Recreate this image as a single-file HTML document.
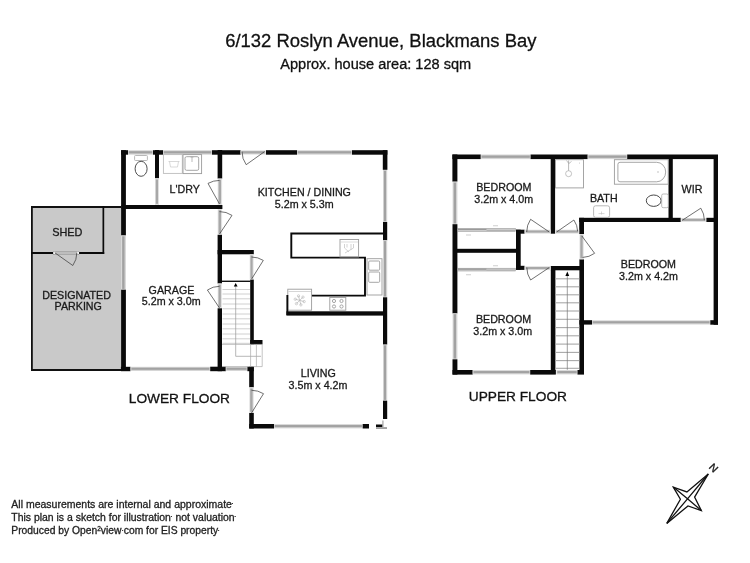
<!DOCTYPE html>
<html><head><meta charset="utf-8"><style>
html,body{margin:0;padding:0;background:#fff;}
body{width:750px;height:563px;overflow:hidden;}
svg{display:block;font-family:"Liberation Sans",sans-serif;will-change:transform;}
</style></head><body>
<svg width="750" height="563" viewBox="0 0 750 563">
<rect x="31.00" y="206.00" width="90.00" height="165.00" fill="#c9c9c9" />
<path d="M121,207 H31.9 V370 H121" fill="none" stroke="#111" stroke-width="1.8"/>
<rect x="102.50" y="206.00" width="1.70" height="48.00" fill="#0a0a0a" />
<rect x="31.00" y="252.00" width="23.40" height="2.00" fill="#0a0a0a" />
<rect x="78.40" y="252.00" width="25.80" height="2.00" fill="#0a0a0a" />
<rect x="53.6" y="251.3" width="25.2" height="3.4" fill="#bdbdbd" stroke="#999" stroke-width="0.6"/>
<rect x="53.3" y="251.8" width="2" height="2.2" fill="#f4f4f4"/><rect x="77" y="251.8" width="2" height="2.2" fill="#f4f4f4"/>
<path d="M54.90,252.80 L72.80,265.50 A21.95,21.95 0 0 0 76.85,252.80" fill="none" stroke="#333" stroke-width="0.7"/>
<rect x="121.10" y="150.20" width="6.90" height="4.50" fill="#0a0a0a" />
<rect x="128.00" y="150.20" width="25.00" height="4.50" fill="#d6d6d6"/>
<rect x="128.80" y="151.19" width="23.40" height="2.25" fill="#a2a2a2"/>
<rect x="153.00" y="150.20" width="10.00" height="4.50" fill="#0a0a0a" />
<rect x="163.00" y="150.20" width="49.00" height="4.50" fill="#d6d6d6"/>
<rect x="163.80" y="151.19" width="47.40" height="2.25" fill="#a2a2a2"/>
<rect x="212.00" y="150.20" width="28.70" height="4.50" fill="#0a0a0a" />
<rect x="240.50" y="150.30" width="25.50" height="4.30" fill="#e0e0e0"/>
<rect x="241.70" y="151.16" width="23.10" height="2.37" fill="#a8a8a8"/>
<path d="M264.60,151.60 L246.20,164.70 A22.59,22.59 0 0 1 242.01,151.60" fill="none" stroke="#333" stroke-width="0.7"/>
<rect x="266.00" y="150.20" width="31.00" height="4.50" fill="#0a0a0a" />
<rect x="297.00" y="150.20" width="55.00" height="4.50" fill="#d6d6d6"/>
<rect x="297.80" y="151.19" width="53.40" height="2.25" fill="#a2a2a2"/>
<rect x="352.00" y="150.20" width="35.40" height="4.50" fill="#0a0a0a" />
<rect x="121.10" y="150.20" width="4.80" height="85.30" fill="#0a0a0a" />
<rect x="121.10" y="235.50" width="4.80" height="54.20" fill="#d6d6d6"/>
<rect x="122.16" y="236.30" width="2.40" height="52.60" fill="#a2a2a2"/>
<rect x="121.10" y="289.70" width="4.80" height="81.30" fill="#0a0a0a" />
<rect x="121.50" y="205.00" width="100.90" height="4.00" fill="#0a0a0a" />
<rect x="155.00" y="150.00" width="4.00" height="28.30" fill="#0a0a0a" />
<rect x="155.00" y="178.30" width="4.00" height="26.70" fill="#e0e0e0"/>
<rect x="155.80" y="179.50" width="2.20" height="24.30" fill="#a8a8a8"/>
<rect x="217.60" y="150.00" width="4.60" height="28.60" fill="#0a0a0a" />
<rect x="217.70" y="178.60" width="4.40" height="26.40" fill="#e0e0e0"/>
<rect x="218.58" y="179.80" width="2.42" height="24.00" fill="#a8a8a8"/>
<path d="M219.50,204.00 L208.00,183.40 A23.59,23.59 0 0 1 219.50,180.41" fill="none" stroke="#333" stroke-width="0.7"/>
<rect x="217.70" y="209.00" width="4.40" height="25.80" fill="#e0e0e0"/>
<rect x="218.58" y="210.20" width="2.42" height="23.40" fill="#a8a8a8"/>
<path d="M219.50,234.00 L232.00,215.40 A22.41,22.41 0 0 0 219.50,211.59" fill="none" stroke="#333" stroke-width="0.7"/>
<rect x="217.60" y="234.80" width="4.40" height="48.70" fill="#0a0a0a" />
<rect x="217.70" y="283.50" width="4.20" height="24.80" fill="#e0e0e0"/>
<rect x="218.54" y="284.70" width="2.31" height="22.40" fill="#a8a8a8"/>
<path d="M219.50,308.00 L207.40,290.00 A21.69,21.69 0 0 1 219.50,286.31" fill="none" stroke="#333" stroke-width="0.7"/>
<rect x="217.60" y="308.30" width="4.40" height="62.90" fill="#0a0a0a" />
<rect x="120.90" y="366.80" width="9.60" height="4.40" fill="#0a0a0a" />
<rect x="130.60" y="366.80" width="79.60" height="4.20" fill="#d6d6d6"/>
<rect x="131.40" y="367.72" width="78.00" height="2.10" fill="#a2a2a2"/>
<rect x="210.20" y="366.70" width="15.60" height="4.50" fill="#0a0a0a" />
<rect x="225.80" y="366.80" width="21.60" height="4.20" fill="#d6d6d6"/>
<rect x="226.60" y="367.72" width="20.00" height="2.10" fill="#a2a2a2"/>
<rect x="247.40" y="366.70" width="6.40" height="4.50" fill="#0a0a0a" />
<rect x="217.60" y="250.00" width="36.20" height="4.30" fill="#0a0a0a" />
<rect x="249.70" y="254.30" width="3.90" height="25.30" fill="#e0e0e0"/>
<rect x="250.48" y="255.50" width="2.15" height="22.90" fill="#a8a8a8"/>
<path d="M251.60,279.00 L263.30,260.40 A21.97,21.97 0 0 0 251.60,257.03" fill="none" stroke="#333" stroke-width="0.7"/>
<rect x="250.20" y="279.60" width="3.60" height="64.80" fill="#0a0a0a" />
<rect x="250.20" y="340.00" width="12.30" height="4.40" fill="#0a0a0a" />
<rect x="249.20" y="366.70" width="4.60" height="20.60" fill="#0a0a0a" />
<rect x="249.30" y="387.30" width="4.40" height="25.70" fill="#e0e0e0"/>
<rect x="250.18" y="388.50" width="2.42" height="23.30" fill="#a8a8a8"/>
<path d="M251.50,413.00 L263.50,393.70 A22.73,22.73 0 0 0 251.50,390.27" fill="none" stroke="#333" stroke-width="0.7"/>
<rect x="249.20" y="413.00" width="4.60" height="15.50" fill="#0a0a0a" />
<rect x="249.20" y="424.00" width="24.80" height="4.50" fill="#0a0a0a" />
<rect x="274.00" y="424.10" width="88.70" height="4.30" fill="#d6d6d6"/>
<rect x="274.80" y="425.05" width="87.10" height="2.15" fill="#a2a2a2"/>
<rect x="362.70" y="424.00" width="6.30" height="4.50" fill="#0a0a0a" />
<rect x="376.00" y="424.50" width="7.00" height="2.50" fill="#0a0a0a" />
<rect x="376.00" y="427.10" width="11.00" height="1.90" fill="#a0a0a0" />
<rect x="382.20" y="420.50" width="1.40" height="6.50" fill="#b0b0b0" />
<rect x="382.80" y="150.20" width="4.60" height="19.60" fill="#0a0a0a" />
<rect x="383.00" y="170.00" width="4.20" height="52.00" fill="#d6d6d6"/>
<rect x="383.92" y="170.80" width="2.10" height="50.40" fill="#a2a2a2"/>
<rect x="383.00" y="222.00" width="4.20" height="18.30" fill="#0a0a0a" />
<rect x="383.00" y="240.30" width="4.20" height="57.00" fill="#d6d6d6"/>
<rect x="383.92" y="241.10" width="2.10" height="55.40" fill="#a2a2a2"/>
<rect x="383.00" y="297.30" width="4.20" height="47.30" fill="#0a0a0a" />
<rect x="383.00" y="344.60" width="4.20" height="56.10" fill="#d6d6d6"/>
<rect x="383.92" y="345.40" width="2.10" height="54.50" fill="#a2a2a2"/>
<rect x="383.00" y="400.70" width="4.20" height="18.30" fill="#0a0a0a" />
<rect x="286.40" y="311.30" width="100.60" height="4.30" fill="#0a0a0a" />
<path d="M383,233.5 H291.3 V257.6 H365 V295.6 H311.7" fill="none" stroke="#0a0a0a" stroke-width="1.9"/>
<rect x="340" y="239.5" width="18.6" height="17.5" fill="none" stroke="#9c9c9c" stroke-width="0.9"/>
<rect x="367" y="258.7" width="15" height="36.3" fill="none" stroke="#9c9c9c" stroke-width="0.9"/>
<rect x="368.7" y="261" width="11" height="9.2" rx="1" fill="none" stroke="#9c9c9c" stroke-width="0.9"/>
<rect x="368.7" y="272" width="11" height="10.3" rx="1" fill="none" stroke="#9c9c9c" stroke-width="0.9"/>
<rect x="287.8" y="289.2" width="23.8" height="21" fill="none" stroke="#9c9c9c" stroke-width="0.9"/>
<rect x="329.8" y="297.4" width="16" height="12.8" fill="none" stroke="#9c9c9c" stroke-width="0.9"/>
<circle cx="334" cy="301" r="1.6" fill="none" stroke="#9c9c9c" stroke-width="0.9"/>
<circle cx="341.5" cy="301" r="1.6" fill="none" stroke="#9c9c9c" stroke-width="0.9"/>
<circle cx="334" cy="306.5" r="1.6" fill="none" stroke="#9c9c9c" stroke-width="0.9"/>
<circle cx="341.5" cy="306.5" r="1.6" fill="none" stroke="#9c9c9c" stroke-width="0.9"/>
<line x1="288.5" y1="291.5" x2="311" y2="291.5" stroke="#bbb" stroke-width="0.6"/>
<line x1="299.7" y1="300.4" x2="304.14" y2="301.59" stroke="#b5b5b5" stroke-width="0.7"/>
<circle cx="304.14" cy="301.59" r="1.2" fill="none" stroke="#b5b5b5" stroke-width="0.6"/>
<line x1="299.7" y1="300.4" x2="300.89" y2="304.84" stroke="#b5b5b5" stroke-width="0.7"/>
<circle cx="300.89" cy="304.84" r="1.2" fill="none" stroke="#b5b5b5" stroke-width="0.6"/>
<line x1="299.7" y1="300.4" x2="296.45" y2="303.65" stroke="#b5b5b5" stroke-width="0.7"/>
<circle cx="296.45" cy="303.65" r="1.2" fill="none" stroke="#b5b5b5" stroke-width="0.6"/>
<line x1="299.7" y1="300.4" x2="295.26" y2="299.21" stroke="#b5b5b5" stroke-width="0.7"/>
<circle cx="295.26" cy="299.21" r="1.2" fill="none" stroke="#b5b5b5" stroke-width="0.6"/>
<line x1="299.7" y1="300.4" x2="298.51" y2="295.96" stroke="#b5b5b5" stroke-width="0.7"/>
<circle cx="298.51" cy="295.96" r="1.2" fill="none" stroke="#b5b5b5" stroke-width="0.6"/>
<line x1="299.7" y1="300.4" x2="302.95" y2="297.15" stroke="#b5b5b5" stroke-width="0.7"/>
<circle cx="302.95" cy="297.15" r="1.2" fill="none" stroke="#b5b5b5" stroke-width="0.6"/>
<line x1="340.5" y1="242" x2="358" y2="242" stroke="#c8c8c8" stroke-width="0.6"/>
<path d="M344.5,244 V248 L349,252 M353.5,244 V248 L345,253 M347,244 V247.5 M351,244 V250" fill="none" stroke="#c0c0c0" stroke-width="0.7"/>
<rect x="286.40" y="295.00" width="1.90" height="20.00" fill="#0a0a0a" />
<rect x="163.4" y="154.6" width="18.9" height="18.8" fill="none" stroke="#bdbdbd" stroke-width="0.9"/>
<rect x="183" y="154.6" width="18.6" height="19" fill="none" stroke="#9c9c9c" stroke-width="0.9"/>
<rect x="185" y="156.7" width="13.7" height="13.6" rx="1.5" fill="none" stroke="#9c9c9c" stroke-width="0.9"/>
<path d="M192,156.7 V162 M190.5,157 H193.5" fill="none" stroke="#aaa" stroke-width="0.8"/>
<path d="M168.5,161.5 H179.5 M169.5,161.5 L170.5,167 H177.5 L178.5,161.5" fill="none" stroke="#c8c8c8" stroke-width="0.7"/>
<rect x="134.6" y="155.5" width="12.8" height="5" rx="0.8" fill="none" stroke="#b0b0b0" stroke-width="0.9"/>
<ellipse cx="141.1" cy="168.8" rx="6" ry="7.5" fill="none" stroke="#444" stroke-width="0.95"/>
<line x1="221.8" y1="281.3" x2="250.5" y2="281.3" stroke="#111" stroke-width="1.4"/>
<line x1="222.5" y1="289.5" x2="250" y2="289.5" stroke="#d0d0d0" stroke-width="1"/>
<line x1="222.5" y1="294" x2="250" y2="294" stroke="#d0d0d0" stroke-width="1"/>
<line x1="222.5" y1="298.8" x2="250" y2="298.8" stroke="#d0d0d0" stroke-width="1"/>
<line x1="222.5" y1="304" x2="250" y2="304" stroke="#d0d0d0" stroke-width="1"/>
<line x1="222.5" y1="308.8" x2="250" y2="308.8" stroke="#d0d0d0" stroke-width="1"/>
<line x1="222.5" y1="314" x2="250" y2="314" stroke="#d0d0d0" stroke-width="1"/>
<line x1="222.5" y1="318.8" x2="250" y2="318.8" stroke="#d0d0d0" stroke-width="1"/>
<line x1="222.5" y1="324" x2="250" y2="324" stroke="#d0d0d0" stroke-width="1"/>
<line x1="222.5" y1="328.8" x2="250" y2="328.8" stroke="#d0d0d0" stroke-width="1"/>
<line x1="222.5" y1="334" x2="250" y2="334" stroke="#d0d0d0" stroke-width="1"/>
<line x1="222.5" y1="338.8" x2="250" y2="338.8" stroke="#d0d0d0" stroke-width="1"/>
<line x1="222.5" y1="343.3" x2="250" y2="343.3" stroke="#d0d0d0" stroke-width="1"/>
<path d="M235.7,286 V356.3 H261" fill="none" stroke="#999" stroke-width="0.7"/>
<path d="M235.7,283 L233.8,286.5 H237.6 Z" fill="#000"/>
<path d="M222,344.4 H262.2 V366.6 H222" fill="none" stroke="#aaa" stroke-width="0.7"/>
<line x1="250.6" y1="344.4" x2="250.6" y2="366.6" stroke="#aaa" stroke-width="0.7"/>
<line x1="256.4" y1="344.4" x2="256.4" y2="366.6" stroke="#aaa" stroke-width="0.7"/>
<rect x="452.40" y="154.50" width="28.40" height="4.60" fill="#0a0a0a" />
<rect x="480.80" y="154.50" width="49.80" height="4.60" fill="#d6d6d6"/>
<rect x="481.60" y="155.51" width="48.20" height="2.30" fill="#a2a2a2"/>
<rect x="530.60" y="154.50" width="57.10" height="4.60" fill="#0a0a0a" />
<rect x="587.70" y="154.50" width="39.50" height="4.60" fill="#d6d6d6"/>
<rect x="588.50" y="155.51" width="37.90" height="2.30" fill="#a2a2a2"/>
<rect x="627.20" y="154.50" width="90.80" height="4.60" fill="#0a0a0a" />
<rect x="452.40" y="154.50" width="5.00" height="27.10" fill="#0a0a0a" />
<rect x="452.60" y="181.80" width="4.80" height="42.40" fill="#d6d6d6"/>
<rect x="453.66" y="182.60" width="2.40" height="40.80" fill="#a2a2a2"/>
<rect x="452.50" y="224.20" width="4.90" height="89.20" fill="#0a0a0a" />
<rect x="452.60" y="313.40" width="4.80" height="45.90" fill="#d6d6d6"/>
<rect x="453.66" y="314.20" width="2.40" height="44.30" fill="#a2a2a2"/>
<rect x="452.50" y="359.30" width="4.90" height="15.30" fill="#0a0a0a" />
<rect x="452.50" y="370.00" width="20.20" height="4.60" fill="#0a0a0a" />
<rect x="472.70" y="370.10" width="57.50" height="4.30" fill="#d6d6d6"/>
<rect x="473.50" y="371.05" width="55.90" height="2.15" fill="#a2a2a2"/>
<rect x="530.20" y="370.00" width="25.60" height="4.60" fill="#0a0a0a" />
<rect x="556.50" y="370.10" width="21.00" height="4.30" fill="#d6d6d6"/>
<rect x="557.30" y="371.05" width="19.40" height="2.15" fill="#a2a2a2"/>
<rect x="577.50" y="370.00" width="6.50" height="4.60" fill="#0a0a0a" />
<rect x="550.80" y="266.00" width="4.60" height="108.00" fill="#0a0a0a" />
<rect x="579.40" y="259.30" width="4.60" height="114.70" fill="#0a0a0a" />
<rect x="550.80" y="266.00" width="33.20" height="4.30" fill="#0a0a0a" />
<rect x="550.70" y="155.00" width="4.40" height="78.70" fill="#0a0a0a" />
<rect x="668.50" y="155.00" width="4.30" height="67.00" fill="#0a0a0a" />
<rect x="579.20" y="217.80" width="101.60" height="4.20" fill="#0a0a0a" />
<rect x="680.80" y="218.00" width="25.60" height="3.90" fill="#e0e0e0"/>
<rect x="682.00" y="218.78" width="23.20" height="2.15" fill="#a8a8a8"/>
<path d="M682.40,220.20 L700.80,208.20 A21.97,21.97 0 0 1 704.37,220.20" fill="none" stroke="#333" stroke-width="0.7"/>
<rect x="706.40" y="217.80" width="11.60" height="4.20" fill="#0a0a0a" />
<rect x="713.60" y="155.00" width="4.40" height="169.70" fill="#0a0a0a" />
<rect x="579.20" y="217.80" width="4.80" height="16.20" fill="#0a0a0a" />
<rect x="579.50" y="234.00" width="4.20" height="25.30" fill="#e0e0e0"/>
<rect x="580.34" y="235.20" width="2.31" height="22.90" fill="#a8a8a8"/>
<path d="M581.90,236.00 L594.60,253.30 A21.46,21.46 0 0 1 582.58,257.45" fill="none" stroke="#333" stroke-width="0.7"/>
<rect x="579.40" y="320.20" width="12.60" height="4.40" fill="#0a0a0a" />
<rect x="592.00" y="320.30" width="118.30" height="4.20" fill="#d6d6d6"/>
<rect x="592.80" y="321.22" width="116.70" height="2.10" fill="#a2a2a2"/>
<rect x="710.30" y="320.20" width="7.70" height="4.50" fill="#0a0a0a" />
<rect x="457.00" y="248.80" width="59.20" height="4.00" fill="#0a0a0a" />
<rect x="516.00" y="229.70" width="4.70" height="40.00" fill="#0a0a0a" />
<rect x="516.00" y="229.70" width="8.60" height="4.00" fill="#0a0a0a" />
<rect x="516.00" y="265.80" width="8.60" height="4.10" fill="#0a0a0a" />
<rect x="457.6" y="228.5" width="57.8" height="2.8" fill="#d2d2d2" stroke="#8a8a8a" stroke-width="0.5"/>
<rect x="457.9" y="228.8" width="28.6" height="1.3" fill="#9a9a9a"/>
<rect x="486.5" y="229.8" width="28.6" height="1.2" fill="#b2b2b2"/>
<rect x="457.6" y="268.2" width="57.8" height="2.8" fill="#d2d2d2" stroke="#8a8a8a" stroke-width="0.5"/>
<rect x="457.9" y="268.5" width="28.6" height="1.3" fill="#9a9a9a"/>
<rect x="486.5" y="269.5" width="28.6" height="1.2" fill="#b2b2b2"/>
<rect x="493" y="225.4" width="5" height="0.8" fill="#c4c4c4"/>
<rect x="466" y="234.6" width="5" height="0.8" fill="#c4c4c4"/>
<rect x="493" y="265.4" width="5" height="0.8" fill="#c4c4c4"/>
<rect x="466" y="274.4" width="5" height="0.8" fill="#c4c4c4"/>
<rect x="524.60" y="229.70" width="26.10" height="3.90" fill="#e0e0e0"/>
<rect x="525.80" y="230.48" width="23.70" height="2.15" fill="#a8a8a8"/>
<path d="M549.30,232.00 L530.60,219.30 A22.60,22.60 0 0 0 526.70,232.00" fill="none" stroke="#333" stroke-width="0.7"/>
<rect x="555.10" y="229.70" width="24.10" height="3.90" fill="#e0e0e0"/>
<rect x="556.30" y="230.48" width="21.70" height="2.15" fill="#a8a8a8"/>
<path d="M556.60,232.00 L573.90,220.00 A21.05,21.05 0 0 1 577.64,231.31" fill="none" stroke="#333" stroke-width="0.7"/>
<rect x="524.60" y="266.20" width="26.20" height="3.90" fill="#e0e0e0"/>
<rect x="525.80" y="266.98" width="23.80" height="2.15" fill="#a8a8a8"/>
<path d="M549.30,267.50 L530.60,280.00 A22.49,22.49 0 0 1 526.81,267.50" fill="none" stroke="#333" stroke-width="0.7"/>
<line x1="555.6" y1="278.8" x2="579.2" y2="278.8" stroke="#a8a8a8" stroke-width="1.1"/>
<line x1="555.6" y1="286.8" x2="579.2" y2="286.8" stroke="#a8a8a8" stroke-width="1.1"/>
<line x1="555.6" y1="294.8" x2="579.2" y2="294.8" stroke="#a8a8a8" stroke-width="1.1"/>
<line x1="555.6" y1="302.8" x2="579.2" y2="302.8" stroke="#a8a8a8" stroke-width="1.1"/>
<line x1="555.6" y1="311" x2="579.2" y2="311" stroke="#a8a8a8" stroke-width="1.1"/>
<line x1="555.6" y1="319.3" x2="579.2" y2="319.3" stroke="#a8a8a8" stroke-width="1.1"/>
<line x1="555.6" y1="327.6" x2="579.2" y2="327.6" stroke="#a8a8a8" stroke-width="1.1"/>
<line x1="555.6" y1="335.8" x2="579.2" y2="335.8" stroke="#a8a8a8" stroke-width="1.1"/>
<line x1="555.6" y1="344.1" x2="579.2" y2="344.1" stroke="#a8a8a8" stroke-width="1.1"/>
<line x1="555.6" y1="352.4" x2="579.2" y2="352.4" stroke="#a8a8a8" stroke-width="1.1"/>
<line x1="555.6" y1="360.6" x2="579.2" y2="360.6" stroke="#a8a8a8" stroke-width="1.1"/>
<line x1="555.6" y1="368.3" x2="579.2" y2="368.3" stroke="#a8a8a8" stroke-width="1.1"/>
<line x1="567.3" y1="274" x2="567.3" y2="369.8" stroke="#777" stroke-width="0.7"/>
<path d="M567.3,271.6 L565.4,275.9 H569.2 Z" fill="#000"/>
<rect x="555.5" y="159.7" width="28" height="28.2" fill="none" stroke="#9c9c9c" stroke-width="0.9"/>
<circle cx="568.6" cy="173.7" r="3" fill="none" stroke="#aaa" stroke-width="0.7"/>
<line x1="568.6" y1="170.7" x2="568.6" y2="160.5" stroke="#999" stroke-width="0.7"/>
<path d="M566.5,160.5 L568.8,163.5 L571.5,161.5" fill="none" stroke="#999" stroke-width="0.6"/>
<circle cx="579.5" cy="163" r="0.5" fill="#bbb"/>
<rect x="614.4" y="159.7" width="53.8" height="24.5" fill="none" stroke="#9c9c9c" stroke-width="0.9"/>
<path d="M620,162.3 H656.7 A9,9.75 0 0 1 656.7,181.8 H620 Q617.9,181.8 617.9,179.7 V164.4 Q617.9,162.3 620,162.3 Z" fill="none" stroke="#9c9c9c" stroke-width="0.9"/>
<circle cx="658" cy="172" r="0.8" fill="#bbb"/>
<ellipse cx="653.7" cy="200.7" rx="7.4" ry="5.7" fill="none" stroke="#333" stroke-width="0.9"/>
<rect x="661.7" y="194" width="6.6" height="13.7" rx="1.5" fill="none" stroke="#aaa" stroke-width="0.8"/>
<rect x="593.6" y="205.8" width="16" height="11.6" rx="2" fill="none" stroke="#b0b0b0" stroke-width="0.9"/>
<path d="M598.5,213.6 H604.5 M601.5,211.5 V214.5" fill="none" stroke="#bbb" stroke-width="0.6"/>
<text x="225.20" y="47.00" font-size="18.45" fill="#111" stroke="#111" stroke-width="0.3" >6/132 Roslyn Avenue, Blackmans Bay</text>
<text x="280.30" y="68.80" font-size="14.55" fill="#111" stroke="#111" stroke-width="0.3" >Approx. house area: 128 sqm</text>
<text x="52.20" y="235.80" font-size="10.9" fill="#1a1a1a" stroke="#1a1a1a" stroke-width="0.3" >SHED</text>
<text x="42.20" y="298.60" font-size="10.7" fill="#1a1a1a" stroke="#1a1a1a" stroke-width="0.3" >DESIGNATED</text>
<text x="54.60" y="310.20" font-size="10.7" fill="#1a1a1a" stroke="#1a1a1a" stroke-width="0.3" >PARKING</text>
<text x="169.60" y="193.00" font-size="10.7" fill="#1a1a1a" stroke="#1a1a1a" stroke-width="0.3" >L'DRY</text>
<text x="257.70" y="195.90" font-size="10.7" fill="#1a1a1a" stroke="#1a1a1a" stroke-width="0.3" >KITCHEN / DINING</text>
<text x="274.80" y="207.80" font-size="10.7" fill="#1a1a1a" stroke="#1a1a1a" stroke-width="0.3" >5.2m x 5.3m</text>
<text x="148.60" y="293.50" font-size="10.7" fill="#1a1a1a" stroke="#1a1a1a" stroke-width="0.3" >GARAGE</text>
<text x="141.80" y="305.20" font-size="10.7" fill="#1a1a1a" stroke="#1a1a1a" stroke-width="0.3" >5.2m x 3.0m</text>
<text x="300.80" y="376.70" font-size="10.7" fill="#1a1a1a" stroke="#1a1a1a" stroke-width="0.3" >LIVING</text>
<text x="288.60" y="388.80" font-size="10.7" fill="#1a1a1a" stroke="#1a1a1a" stroke-width="0.3" >3.5m x 4.2m</text>
<text x="476.20" y="190.60" font-size="10.7" fill="#1a1a1a" stroke="#1a1a1a" stroke-width="0.3" >BEDROOM</text>
<text x="474.30" y="202.60" font-size="10.7" fill="#1a1a1a" stroke="#1a1a1a" stroke-width="0.3" >3.2m x 4.0m</text>
<text x="589.90" y="202.10" font-size="10.7" fill="#1a1a1a" stroke="#1a1a1a" stroke-width="0.3" >BATH</text>
<text x="681.60" y="193.00" font-size="10.7" fill="#1a1a1a" stroke="#1a1a1a" stroke-width="0.3" >WIR</text>
<text x="620.80" y="268.30" font-size="10.7" fill="#1a1a1a" stroke="#1a1a1a" stroke-width="0.3" >BEDROOM</text>
<text x="619.10" y="279.60" font-size="10.7" fill="#1a1a1a" stroke="#1a1a1a" stroke-width="0.3" >3.2m x 4.2m</text>
<text x="475.90" y="323.00" font-size="10.7" fill="#1a1a1a" stroke="#1a1a1a" stroke-width="0.3" >BEDROOM</text>
<text x="473.30" y="334.70" font-size="10.7" fill="#1a1a1a" stroke="#1a1a1a" stroke-width="0.3" >3.2m x 3.0m</text>
<text x="128.80" y="402.60" font-size="13.7" fill="#111" stroke="#111" stroke-width="0.3" >LOWER FLOOR</text>
<text x="468.80" y="401.00" font-size="13.7" fill="#111" stroke="#111" stroke-width="0.3" >UPPER FLOOR</text>
<text x="11.30" y="507.90" font-size="10.5" fill="#222" stroke="#222" stroke-width="0.3" >All measurements are internal and approximate<tspan font-size="7" dx="-0.6" dy="-1.5">·</tspan></text>
<text x="11.30" y="520.80" font-size="10.45" fill="#222" stroke="#222" stroke-width="0.3" >This plan is a sketch for illustration<tspan font-size="7" dx="-0.6" dy="-1.5">·</tspan><tspan dy="1.5"> not valuation</tspan><tspan font-size="7" dx="-0.6" dy="-1.5">·</tspan></text>
<text x="11.30" y="534.20" font-size="10.3" fill="#222" stroke="#222" stroke-width="0.3" >Produced by Open<tspan font-size="6.5" dy="-3">2</tspan><tspan dy="3">view</tspan><tspan font-size="7" dy="-1.5">·</tspan><tspan dy="1.5">com for EIS property</tspan><tspan font-size="7" dx="-0.8" dy="-1.5">·</tspan></text>
<g fill="none" stroke="#111" stroke-width="1.3" stroke-linejoin="miter"><path d="M708.3,474 L694.6,497.1 L701.3,510.5 L688,505.9 L666.8,523.4 L680.4,499.2 L673.3,487.1 L686.9,491.9 Z"/><path d="M708.3,474 L687.5,498.8 L666.8,523.4 M673.3,487.1 L687.5,498.8 L701.3,510.5"/></g>
<text x="0" y="3.85" font-size="10.7" fill="#111" stroke="#111" stroke-width="0.3" text-anchor="middle" transform="translate(713.8,467.7) rotate(45)">N</text>
</svg>
</body></html>
